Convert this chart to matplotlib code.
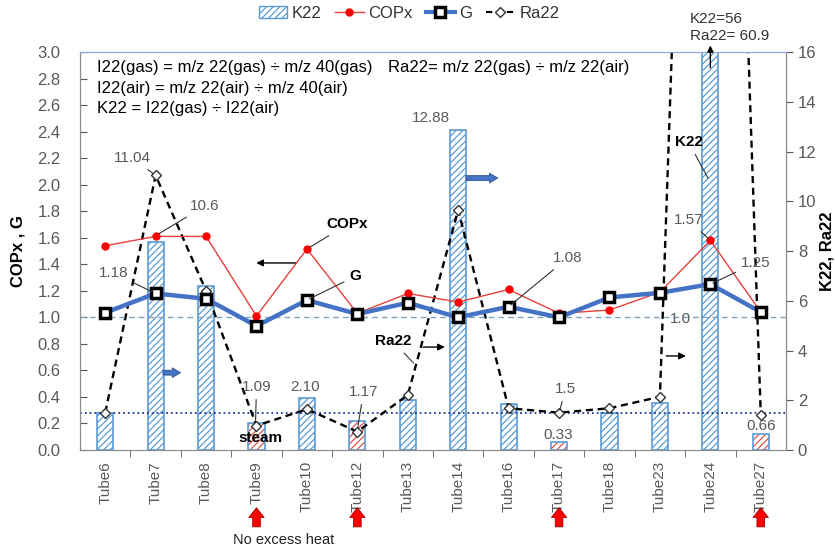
import matplotlib
matplotlib.use('Agg')
import matplotlib.pyplot as plt
from matplotlib.patches import Patch
from matplotlib.lines import Line2D

plt.rcParams['font.family'] = ['Liberation Sans', 'DejaVu Sans']
plt.rcParams['hatch.linewidth'] = 0.9

tubes = ['Tube6', 'Tube7', 'Tube8', 'Tube9', 'Tube10', 'Tube12', 'Tube13',
         'Tube14', 'Tube16', 'Tube17', 'Tube18', 'Tube23', 'Tube24', 'Tube27']
copx = [1.54, 1.61, 1.61, 1.01, 1.515, 1.03, 1.18, 1.115, 1.21, 1.03, 1.055, 1.19, 1.58, 1.04]
g = [1.035, 1.18, 1.14, 0.935, 1.13, 1.025, 1.11, 1.0, 1.08, 1.0, 1.15, 1.185, 1.25, 1.04]
k22 = [1.5, 8.37, 6.6, 1.09, 2.10, 1.17, 2.0, 12.88, 1.85, 0.33, 1.47, 1.88, 56, 0.66]
ra22 = [1.5, 11.04, 6.4, 0.98, 1.64, 0.74, 2.21, 9.65, 1.68, 1.5, 1.68, 2.14, 60.9, 1.41]
no_heat = ['Tube9', 'Tube12', 'Tube17', 'Tube27']

BLUE = '#5b9bd5'
GRAY = '#595959'

x = list(range(len(tubes)))
hatch_cols = ['#e0554c' if t in no_heat else BLUE for t in tubes]

fig = plt.figure(figsize=(8.35, 5.48), dpi=100)
ax = fig.add_axes([0.0958, 0.1788, 0.8455, 0.7263])
ax2 = ax.twinx()
ax.set_zorder(ax2.get_zorder() + 1)
ax.patch.set_visible(False)

# bars (hatch colour separate from outline)
ax2.bar(x, k22, 0.32, color='white', edgecolor=hatch_cols, hatch='/////', linewidth=0)
ax2.bar(x, k22, 0.32, fill=False, edgecolor=BLUE, linewidth=1.2)
ax2.axhline(1.48, color='#1f3a93', ls=':', lw=1.3)
ax2.plot(x, ra22, color='black', ls=(0, (3, 2)), lw=1.7, marker='D', ms=5,
         mfc='white', mec='#333333', mew=1)
ax2.set_ylim(0, 16)
ax2.set_yticks(range(0, 17, 2))

ax.axhline(1.0, color='#7f9fbf', ls=(0, (4, 3)), lw=1)
ax.plot(x, copx, color='#e8413c', lw=1, marker='o', ms=5, mfc='red', mec='red')
ax.plot(x, g, color='#4472c4', lw=3.2, marker='s', ms=7, mfc='white', mec='black', mew=2.5)
ax.set_ylim(0, 3.0)
ax.set_xlim(-0.5, len(tubes) - 0.5)
ax.set_yticks([i / 10 for i in range(0, 31, 2)])
ax.set_yticklabels([f'{i / 10:.1f}' for i in range(0, 31, 2)])
ax.set_xticks(x)
ax.set_xticklabels(tubes, rotation=90)
ax.set_xticks([i + 0.5 for i in x[:-1]], minor=True)

ax.tick_params(axis='x', which='major', length=0, labelsize=11, labelcolor=GRAY, pad=8)
ax.tick_params(axis='x', which='minor', length=5, direction='out', color=GRAY)
ax.tick_params(axis='y', direction='in', length=5, labelsize=12, labelcolor=GRAY, color=GRAY, pad=14)
ax2.tick_params(axis='y', direction='out', length=5, labelsize=12, labelcolor=GRAY, color=GRAY)
for a in (ax, ax2):
    for s in ('left', 'right', 'bottom'):
        a.spines[s].set_color('#8c8c8c')
    a.spines['top'].set_color('#8faadc')
ax.set_ylabel('COPx , G', fontsize=12, fontweight='bold')
ax2.set_ylabel('K22, Ra22', fontsize=12, fontweight='bold')
ax.yaxis.set_label_coords(-0.0765, 0.5)
ax2.yaxis.set_label_coords(1.047, 0.5)

# formulas
ax.text(0.024, 0.96, 'I22(gas) = m/z 22(gas) ÷ m/z 40(gas)', transform=ax.transAxes, fontsize=12, va='center')
ax.text(0.436, 0.96, 'Ra22= m/z 22(gas) ÷ m/z 22(air)', transform=ax.transAxes, fontsize=12, va='center')
ax.text(0.024, 0.9095, 'I22(air) = m/z 22(air) ÷ m/z 40(air)', transform=ax.transAxes, fontsize=12, va='center')
ax.text(0.024, 0.859, 'K22 = I22(gas) ÷ I22(air)', transform=ax.transAxes, fontsize=12, va='center')

lead = dict(arrowstyle='-', color='#333333', lw=0.8, shrinkA=2, shrinkB=2)
def note(txt, xy, xyt, bold=False, color=GRAY, size=11):
    ax.annotate(txt, xy=xy, xytext=xyt, ha='center', va='center', fontsize=size,
                color='black' if bold else color, fontweight='bold' if bold else 'normal',
                arrowprops=lead if xy is not None else None)

note('11.04', (1, 11.04 * 3 / 16), (0.54, 2.2))
note('10.6', (1.02, 1.62), (1.98, 1.84))
note('1.18', (1, 1.18), (0.16, 1.334))
note('COPx', (4, 1.515), (4.8, 1.70), bold=True)
note('G', (4, 1.13), (4.96, 1.31), bold=True)
note('Ra22', (6.15, 0.64), (5.71, 0.82), bold=True)
note('K22', (11.98, 2.03), (11.57, 2.32), bold=True)
note('1.57', (12, 1.58), (11.57, 1.734))
note('1.25', (12, 1.25), (12.9, 1.41))
note('1.08', (8, 1.08), (9.17, 1.447))
note('1.09', (2.98, 0.2), (3.0, 0.475))
note('1.17', (5.0, 0.15), (5.12, 0.437))
note('1.5', (9.0, 0.28), (9.13, 0.46))
ax.text(11.41, 0.99, '1.0', ha='center', va='center', fontsize=11, color=GRAY)
ax.text(6.45, 2.50, '12.88', ha='center', va='center', fontsize=11, color=GRAY)
ax.text(3.97, 0.475, '2.10', ha='center', va='center', fontsize=11, color=GRAY)
ax.text(8.99, 0.113, '0.33', ha='center', va='center', fontsize=11, color=GRAY)
ax.text(13.0, 0.181, '0.66', ha='center', va='center', fontsize=11, color=GRAY)
ax.text(3.08, 0.09, 'steam', ha='center', va='center', fontsize=11, fontweight='bold')

# arrows
arr = dict(arrowstyle='-|>', color='black', lw=1, mutation_scale=10)
ax.annotate('', xy=(2.94, 1.41), xytext=(3.83, 1.41), arrowprops=arr)
ax.annotate('', xy=(6.79, 0.776), xytext=(6.25, 0.776), arrowprops=arr)
ax.annotate('', xy=(11.57, 0.709), xytext=(11.07, 0.709), arrowprops=arr)
blk = dict(arrowstyle='simple,head_width=0.7,head_length=0.6,tail_width=0.35',
           fc='#4472c4', ec='#2f528f', lw=0.6)
ax.annotate('', xy=(1.55, 0.583), xytext=(1.09, 0.583), arrowprops=blk)
ax.annotate('', xy=(7.84, 2.05), xytext=(7.1, 2.05), arrowprops=blk)
ax.annotate('', xy=(12, 3.07), xytext=(12, 2.86), annotation_clip=False,
            arrowprops=dict(arrowstyle='-|>', color='black', lw=1, mutation_scale=9))
ax.text(11.6, 3.065, 'K22=56\nRa22= 60.9', ha='left', va='bottom', fontsize=11,
        color='#333333', linespacing=1.3)

red = dict(arrowstyle='simple,head_width=1.1,head_length=0.7,tail_width=0.55',
           fc='red', ec='#a00000', lw=0.6)
for t in no_heat:
    i = tubes.index(t)
    ax.annotate('', xy=(i, -0.138), xytext=(i, -0.2), xycoords=ax.get_xaxis_transform(),
                arrowprops=red, annotation_clip=False)
ax.text(3.53, -0.226, 'No excess heat', transform=ax.get_xaxis_transform(),
        ha='center', va='center', fontsize=10.5, color='#222222')

handles = [Patch(facecolor='white', edgecolor=BLUE, hatch='/////', label='K22'),
           Line2D([], [], color='#e8413c', lw=1, marker='o', ms=5, mfc='red', mec='red', label='COPx'),
           Line2D([], [], color='#4472c4', lw=3, marker='s', ms=7, mfc='white', mec='black', mew=2.5, label='G'),
           Line2D([], [], color='black', ls=(0, (3, 2)), lw=1.5, marker='D', ms=5, mfc='white', mec='#333333', label='Ra22')]
ax.legend(handles=handles, loc='center', bbox_to_anchor=(0.466, 1.097), ncol=4, frameon=False,
          fontsize=12, handlelength=1.7, columnspacing=0.8, handletextpad=0.3, labelcolor='#333333')

fig.savefig('out.png', dpi=100)
